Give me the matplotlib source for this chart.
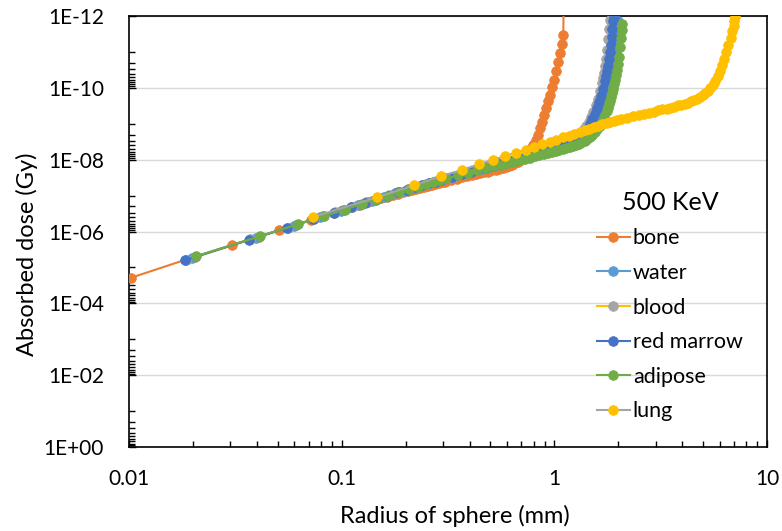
import numpy as np
import matplotlib.pyplot as plt
from matplotlib.ticker import FixedLocator, FuncFormatter, NullFormatter

plt.rcParams['font.family'] = ['Lato', 'DejaVu Sans']

# Radius of sphere (mm) and log10 of absorbed dose (Gy)
bone_r = [0.0102, 0.0204, 0.0306, 0.0408, 0.051, 0.0612, 0.0714, 0.0816, 0.0918, 0.102,
          0.1122, 0.1224, 0.1326, 0.1428, 0.153, 0.1632, 0.1734, 0.1836, 0.1938, 0.204,
          0.2142, 0.2244, 0.2346, 0.2448, 0.255, 0.2652, 0.2754, 0.2856, 0.2958, 0.306,
          0.3264, 0.3468, 0.3672, 0.3876, 0.408, 0.4284, 0.4488, 0.4692, 0.4896, 0.51,
          0.5304, 0.5508, 0.5712, 0.5916, 0.612, 0.6324, 0.6528, 0.6732, 0.6936, 0.714,
          0.7344, 0.7548, 0.7752, 0.7956, 0.816, 0.8364, 0.8568, 0.8772, 0.8976, 0.918,
          0.9384, 0.9588, 0.9792, 0.9996, 1.02, 1.0404, 1.0608, 1.0812, 1.1016, 1.11]
bone_logd = [-4.71, -5.30, -5.63, -5.86, -6.04, -6.19, -6.32, -6.42, -6.52, -6.60,
             -6.68, -6.75, -6.81, -6.87, -6.92, -6.97, -7.01, -7.05, -7.09, -7.13,
             -7.16, -7.19, -7.22, -7.25, -7.28, -7.30, -7.33, -7.35, -7.37, -7.39,
             -7.43, -7.47, -7.51, -7.54, -7.57, -7.60, -7.62, -7.65, -7.67, -7.70,
             -7.72, -7.75, -7.77, -7.80, -7.83, -7.86, -7.90, -7.94, -7.99, -8.04,
             -8.11, -8.19, -8.29, -8.41, -8.54, -8.70, -8.87, -9.05, -9.24, -9.43,
             -9.62, -9.81, -10.02, -10.23, -10.46, -10.72, -10.98, -11.22, -11.48, -13.0]

water_r = [0.0198, 0.0396, 0.0594, 0.0792, 0.099, 0.1188, 0.1386, 0.1584, 0.1782, 0.198,
           0.2178, 0.2376, 0.2574, 0.2772, 0.297, 0.3366, 0.3762, 0.4158, 0.4554, 0.495,
           0.5346, 0.5742, 0.6138, 0.6534, 0.693, 0.7326, 0.7722, 0.8118, 0.8514, 0.891,
           0.9306, 0.9702, 1.0098, 1.0494, 1.089, 1.1286, 1.1682, 1.2078, 1.2474, 1.287,
           1.3266, 1.3662, 1.4058, 1.4454, 1.485, 1.5246, 1.5642, 1.6038, 1.6434, 1.683,
           1.7226, 1.7622, 1.8018, 1.8414, 1.881, 1.9008, 1.9206, 1.9404, 1.9602, 1.98, 1.9998]
water_logd = [-5.27, -5.83, -6.16, -6.40, -6.58, -6.73, -6.86, -6.97, -7.06, -7.14,
              -7.22, -7.28, -7.34, -7.39, -7.44, -7.53, -7.61, -7.68, -7.74, -7.80,
              -7.85, -7.90, -7.94, -7.98, -8.02, -8.06, -8.09, -8.12, -8.15, -8.18,
              -8.21, -8.24, -8.27, -8.30, -8.33, -8.36, -8.39, -8.43, -8.47, -8.51,
              -8.56, -8.61, -8.67, -8.74, -8.82, -8.91, -9.01, -9.13, -9.26, -9.41,
              -9.58, -9.77, -9.98, -10.22, -10.50, -10.66, -10.84, -11.04, -11.28, -11.55, -11.85]

blood_r = [0.0186, 0.0372, 0.0558, 0.0744, 0.093, 0.1116, 0.1302, 0.1488, 0.1674, 0.186,
           0.2046, 0.2232, 0.2418, 0.2604, 0.279, 0.2976, 0.3348, 0.372, 0.4092, 0.4464,
           0.4836, 0.5208, 0.558, 0.5952, 0.6324, 0.6696, 0.7068, 0.744, 0.7812, 0.8184,
           0.8556, 0.8928, 0.93, 0.9672, 1.0044, 1.0416, 1.0788, 1.116, 1.1532, 1.1904,
           1.2276, 1.2648, 1.302, 1.3392, 1.3764, 1.4136, 1.4508, 1.488, 1.5252, 1.5624,
           1.5996, 1.6368, 1.674, 1.6926, 1.7112, 1.7298, 1.7484, 1.767, 1.7856, 1.8042, 1.8228]
blood_logd = [-5.21, -5.78, -6.11, -6.35, -6.53, -6.68, -6.81, -6.92, -7.01, -7.09,
              -7.17, -7.24, -7.30, -7.35, -7.40, -7.45, -7.53, -7.61, -7.68, -7.74,
              -7.79, -7.84, -7.89, -7.93, -7.97, -8.01, -8.05, -8.09, -8.12, -8.15,
              -8.18, -8.21, -8.24, -8.27, -8.30, -8.33, -8.37, -8.41, -8.45, -8.50,
              -8.55, -8.61, -8.67, -8.75, -8.84, -8.94, -9.06, -9.19, -9.34, -9.51,
              -9.70, -9.91, -10.14, -10.27, -10.41, -10.60, -10.80, -11.05, -11.35, -11.65, -11.90]

marrow_r = [0.0184, 0.0368, 0.0552, 0.0736, 0.092, 0.1104, 0.1288, 0.1472, 0.1656, 0.184,
            0.2024, 0.2208, 0.2392, 0.2576, 0.276, 0.2944, 0.3312, 0.368, 0.4048, 0.4416,
            0.4784, 0.5152, 0.552, 0.5888, 0.6256, 0.6624, 0.6992, 0.736, 0.7728, 0.8096,
            0.8464, 0.8832, 0.92, 0.9568, 0.9936, 1.0304, 1.0672, 1.104, 1.1408, 1.1776,
            1.2144, 1.2512, 1.288, 1.3248, 1.3616, 1.3984, 1.4352, 1.472, 1.5088, 1.5456,
            1.5824, 1.6192, 1.656, 1.6928, 1.7296, 1.748, 1.7664, 1.7848, 1.8032, 1.8216,
            1.84, 1.8584, 1.8768, 1.8952, 1.9136]
marrow_logd = [-5.20, -5.77, -6.10, -6.34, -6.52, -6.67, -6.80, -6.91, -7.00, -7.09,
               -7.16, -7.23, -7.29, -7.34, -7.39, -7.44, -7.52, -7.60, -7.67, -7.73,
               -7.78, -7.83, -7.88, -7.92, -7.96, -8.00, -8.04, -8.08, -8.11, -8.14,
               -8.17, -8.20, -8.23, -8.26, -8.29, -8.32, -8.35, -8.38, -8.42, -8.46,
               -8.50, -8.55, -8.60, -8.65, -8.70, -8.78, -8.88, -8.99, -9.12, -9.27,
               -9.43, -9.60, -9.78, -9.98, -10.20, -10.33, -10.47, -10.62, -10.80, -10.99,
               -11.20, -11.42, -11.65, -11.85, -11.97]

adipose_r = [0.0207, 0.0414, 0.0621, 0.0828, 0.1035, 0.1242, 0.1449, 0.1656, 0.1863, 0.207,
             0.2277, 0.2484, 0.2691, 0.2898, 0.3105, 0.3519, 0.3933, 0.4347, 0.4761, 0.5175,
             0.5589, 0.6003, 0.6417, 0.6831, 0.7245, 0.7659, 0.8073, 0.8487, 0.8901, 0.9315,
             0.9729, 1.0143, 1.0557, 1.0971, 1.1385, 1.1799, 1.2213, 1.2627, 1.3041, 1.3455,
             1.3869, 1.4283, 1.4697, 1.5111, 1.5525, 1.5939, 1.6353, 1.6767, 1.7181, 1.7595,
             1.7802, 1.8009, 1.8216, 1.8423, 1.863, 1.8837, 1.9044, 1.9251, 1.9458, 1.9665,
             1.9872, 2.0079, 2.0286, 2.0493, 2.07, 2.0907]
adipose_logd = [-5.31, -5.87, -6.20, -6.43, -6.61, -6.77, -6.89, -7.00, -7.10, -7.18,
                -7.25, -7.32, -7.37, -7.43, -7.48, -7.56, -7.63, -7.70, -7.76, -7.81,
                -7.86, -7.90, -7.94, -7.98, -8.02, -8.06, -8.09, -8.12, -8.15, -8.18,
                -8.21, -8.24, -8.27, -8.30, -8.33, -8.36, -8.39, -8.42, -8.45, -8.49,
                -8.53, -8.58, -8.63, -8.69, -8.76, -8.85, -8.95, -9.06, -9.19, -9.35,
                -9.44, -9.54, -9.64, -9.75, -9.86, -9.98, -10.10, -10.23, -10.37, -10.51,
                -10.66, -10.86, -11.15, -11.38, -11.60, -11.78]

lung_r = [0.073, 0.146, 0.22, 0.293, 0.366, 0.44, 0.513, 0.586, 0.659, 0.732,
          0.805, 0.878, 0.951, 1.02, 1.1, 1.17, 1.24, 1.32, 1.39, 1.46,
          1.54, 1.61, 1.68, 1.76, 1.83, 1.9, 1.98, 2.05, 2.2, 2.34,
          2.49, 2.64, 2.78, 2.93, 3.07, 3.22, 3.37, 3.51, 3.66, 3.81,
          3.95, 4.1, 4.25, 4.39, 4.54, 4.69, 4.83, 4.98, 5.12, 5.27,
          5.42, 5.56, 5.71, 5.86, 6.0, 6.15, 6.3, 6.44, 6.59, 6.74,
          6.88, 6.96, 7.03, 7.08]
lung_logd = [-6.40, -6.95, -7.29, -7.54, -7.71, -7.87, -7.99, -8.10, -8.19, -8.28,
             -8.36, -8.43, -8.50, -8.56, -8.62, -8.67, -8.72, -8.77, -8.82, -8.86,
             -8.90, -8.94, -8.98, -9.01, -9.04, -9.07, -9.10, -9.12, -9.17, -9.21,
             -9.25, -9.28, -9.31, -9.34, -9.37, -9.40, -9.42, -9.45, -9.48, -9.51,
             -9.53, -9.56, -9.59, -9.62, -9.66, -9.70, -9.74, -9.79, -9.85, -9.92,
             -10.00, -10.09, -10.20, -10.33, -10.48, -10.64, -10.81, -10.99, -11.18, -11.38,
             -11.58, -11.72, -11.85, -11.97]

# name, radii, log dose, line colour, marker colour (as in the original legend)
series = [
    ("bone", bone_r, bone_logd, "#ED7D31", "#ED7D31"),
    ("water", water_r, water_logd, "#5B9BD5", "#5B9BD5"),
    ("blood", blood_r, blood_logd, "#FFC000", "#A5A5A5"),
    ("red marrow", marrow_r, marrow_logd, "#4472C4", "#4472C4"),
    ("adipose", adipose_r, adipose_logd, "#70AD47", "#70AD47"),
    ("lung", lung_r, lung_logd, "#A5A5A5", "#FFC000"),
]

fig = plt.figure(figsize=(7.82, 5.31), dpi=100)
ax = fig.add_axes([129 / 782, 1 - 447 / 531, 638 / 782, 431 / 531])

for i, (name, r, logd, lc, mc) in enumerate(series):
    ax.plot(r, 10.0 ** np.array(logd), color=lc, lw=1.5, marker="o", ms=7,
            mfc=mc, mec=mc, mew=0.5, label=name, zorder=3 + i)

ax.set_xscale("log")
ax.set_yscale("log")
ax.set_xlim(0.01, 10)
ax.set_ylim(1, 1e-12)

# y axis: labels every two decades, minor ticks like Excel's
ax.yaxis.set_major_locator(FixedLocator([10.0 ** e for e in range(-12, 1, 2)]))
ax.yaxis.set_minor_locator(FixedLocator([m * 10.0 ** e for e in range(-11, 0, 2) for m in range(1, 10)]))
ax.yaxis.set_major_formatter(FuncFormatter(lambda v, p: "1E%+03d" % round(np.log10(v))))
ax.yaxis.set_minor_formatter(NullFormatter())

ax.xaxis.set_major_locator(FixedLocator([0.01, 0.1, 1, 10]))
ax.xaxis.set_minor_locator(FixedLocator([m * 10.0 ** e for e in range(-2, 1) for m in range(2, 10)]))
ax.xaxis.set_major_formatter(FuncFormatter(lambda v, p: "%g" % v))
ax.xaxis.set_minor_formatter(NullFormatter())

ax.tick_params(axis="both", which="both", direction="in", labelsize=15, width=1, colors="black")
ax.tick_params(axis="both", which="major", length=5)
ax.tick_params(axis="both", which="minor", length=4)
ax.tick_params(axis="y", which="major", pad=18)
ax.tick_params(axis="x", which="major", pad=16)

ax.grid(True, axis="y", which="major", color="#D9D9D9", lw=1)
ax.set_axisbelow(True)
for s in ax.spines.values():
    s.set_color("black")
    s.set_linewidth(1.2)

fig.text(455 / 782, 1 - 516 / 531, "Radius of sphere (mm)", ha="center", va="center", fontsize=17)
fig.text(27 / 782, 1 - 254 / 531, "Absorbed dose (Gy)", ha="center", va="center", rotation=90, fontsize=17)

leg = ax.legend(title="500 KeV", loc="center", bbox_to_anchor=(0.848, 0.327), frameon=False,
                fontsize=15.5, title_fontsize=18, handlelength=1.5, handletextpad=0.15,
                labelspacing=0.68, borderaxespad=0)

fig.savefig("out.png", dpi=100)
